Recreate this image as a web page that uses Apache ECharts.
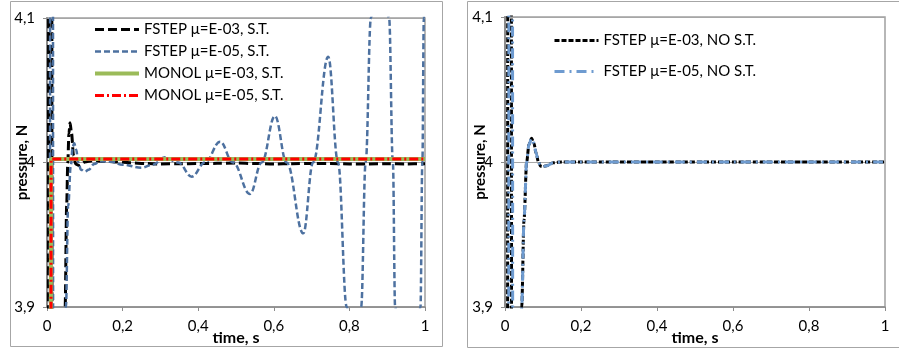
<!DOCTYPE html>
<html><head><meta charset="utf-8">
<script src="https://cdn.jsdelivr.net/npm/echarts@6/dist/echarts.min.js"></script>
<style>html,body{margin:0;padding:0;background:#fff}#c{width:899px;height:351px}</style>
</head><body><div id="c"></div>
<script>
// ---- axis / tick data ----
const xMin = 0, xMax = 1, xStep = 0.2;
const yMin = 3.9, yMax = 4.1, yStep = 0.1;
const xAxisTitle = 'time, s';
const yAxisTitle = 'pressure, N';

// ---- left panel series (with S.T.) ----
const nameF03ST = 'FSTEP μ=E-03, S.T.';
const tF03ST = [0, 0.003, 0.005, 0.012, 0.014, 0.044, 0.048, 0.052, 0.055, 0.058, 0.061, 0.065, 0.07, 0.076, 0.085, 0.1, 0.12, 0.15, 0.18, 0.22, 0.26, 0.3, 0.35, 0.4, 0.45, 0.5, 0.55, 0.6, 0.65, 0.7, 0.75, 0.8, 0.85, 0.9, 0.95, 1.0];
const pF03ST = [3.5, 3.5, 4.5, 4.5, 3.5, 3.5, 3.9, 3.97, 4.0, 4.02, 4.0275, 4.02, 4.005, 3.999, 3.998, 4.0003, 4.0012, 4.0009, 4.0004, 3.9998, 3.9993, 3.999, 3.9991, 3.9993, 3.9994, 3.9996, 3.9993, 3.999, 3.9992, 3.9993, 3.9993, 3.999, 3.999, 3.9991, 3.999, 3.9992];

const nameF05ST = 'FSTEP μ=E-05, S.T.';
const tF05ST = [0, 0.007, 0.009, 0.015, 0.017, 0.046, 0.05, 0.056, 0.063, 0.068, 0.072, 0.077, 0.083, 0.09, 0.1, 0.11, 0.125, 0.14, 0.17, 0.2, 0.25, 0.28, 0.312, 0.347, 0.383, 0.418, 0.458, 0.492, 0.537, 0.568, 0.603, 0.634, 0.678, 0.704, 0.744, 0.77, 0.793, 0.812, 0.831, 0.843, 0.857, 0.88, 0.905, 0.915, 0.921, 0.955, 0.988, 0.993, 0.997, 1.0];
const pF05ST = [3.5, 3.5, 4.5, 4.5, 3.5, 3.5, 3.9, 3.97, 3.998, 4.011, 4.0133, 4.009, 4.0, 3.995, 3.9937, 3.995, 3.999, 4.0008, 4.0005, 3.9985, 3.9964, 3.9985, 4.0036, 4.0, 3.9902, 4.0, 4.0144, 4.0, 3.9782, 4.0, 4.0322, 4.0, 3.951, 4.0, 4.0732, 4.0, 3.9, 3.83, 3.9, 4.0, 4.1, 4.22, 4.1, 4.0, 3.9, 3.55, 3.9, 4.0, 4.1, 4.2];

const nameM03ST = 'MONOL μ=E-03, S.T.';
const tM03ST = [0, 0.0095, 0.0105, 1.0];
const pM03ST = [3.5, 3.5, 4.0025, 4.0025];

const nameM05ST = 'MONOL μ=E-05, S.T.';
const tM05ST = [0, 0.0098, 0.0108, 1.0];
const pM05ST = [3.5, 3.5, 4.0025, 4.0025];

// ---- right panel series (no S.T.) ----
const nameF03NO = 'FSTEP μ=E-03, NO S.T.';
const tF03NO = [0, 0.006, 0.008, 0.016, 0.018, 0.04, 0.044, 0.05, 0.057, 0.063, 0.07, 0.076, 0.082, 0.088, 0.094, 0.099, 0.11, 0.127, 0.15, 0.2, 0.4, 0.6, 0.8, 1.0];
const pF03NO = [3.5, 3.5, 4.5, 4.5, 3.5, 3.5, 3.9, 3.96, 4.0, 4.012, 4.0163, 4.013, 4.006, 4.0, 3.997, 3.9968, 3.9975, 3.9995, 4.0, 4.0, 4.0, 4.0, 4.0, 4.0];

const nameF05NO = 'FSTEP μ=E-05, NO S.T.';
const tF05NO = [0, 0.009, 0.011, 0.019, 0.021, 0.04, 0.044, 0.05, 0.057, 0.063, 0.07, 0.076, 0.082, 0.088, 0.094, 0.099, 0.11, 0.127, 0.15, 0.2, 0.4, 0.6, 0.8, 1.0];
const pF05NO = [3.5, 3.5, 4.5, 4.5, 3.5, 3.5, 3.9, 3.96, 4.0, 4.012, 4.0163, 4.013, 4.006, 4.0, 3.997, 3.9968, 3.9975, 3.9995, 4.0, 4.0, 4.0, 4.0, 4.0, 4.0];

const zip = (t, p) => t.map((v, i) => [v, p[i]]);
const FONT = 'Lato';
const FS = 15;
const comma = v => String(+v.toFixed(2)).replace('.', ',');

function xAx(grid) {
  return {
    type: 'value', gridIndex: grid, min: xMin, max: xMax, interval: xStep,
    name: xAxisTitle, nameLocation: 'middle', nameGap: 23, nameMoveOverlap: false,
    nameTextStyle: { fontFamily: FONT, fontSize: 16, fontWeight: 'bold', color: '#000' },
    axisLine: { show: true, lineStyle: { color: '#8C8C8C', width: 1.5 } },
    axisTick: { show: true, inside: false, length: 4, lineStyle: { color: '#8C8C8C' } },
    axisLabel: { margin: 12, fontFamily: FONT, fontSize: FS, color: '#000', formatter: comma },
    splitLine: { show: false }
  };
}
function yAx(grid) {
  return {
    type: 'value', gridIndex: grid, min: yMin, max: yMax, interval: yStep,
    name: yAxisTitle, nameLocation: 'middle', nameGap: 17, nameRotate: 90, nameMoveOverlap: false,
    nameTextStyle: { fontFamily: FONT, fontSize: FS, fontWeight: 'bold', color: '#000' },
    axisLine: { show: true, lineStyle: { color: '#8C8C8C', width: 2 } },
    axisTick: { show: true, inside: false, length: 4, lineStyle: { color: '#8C8C8C' } },
    axisLabel: { margin: 12, fontFamily: FONT, fontSize: FS, color: '#000', formatter: comma },
    splitLine: { show: true, lineStyle: { color: '#A6A6A6', width: 1 } }
  };
}
function ser(name, t, p, g, color, width, type, smooth) {
  return {
    name, type: 'line', xAxisIndex: g, yAxisIndex: g, data: zip(t, p),
    symbol: 'none', smooth: smooth, smoothMonotone: 'x', clip: true,
    lineStyle: { color, width, type }, itemStyle: { color }
  };
}
const legendCommon = {
  orient: 'vertical', itemWidth: 44, itemHeight: 14, padding: 0,
  itemStyle: { color: 'rgba(0,0,0,0)', borderColor: 'rgba(0,0,0,0)', borderWidth: 0, opacity: 0 },
  lineStyle: { width: 'inherit', type: 'inherit' },
  textStyle: { fontFamily: FONT, fontSize: FS, color: '#000' }
};

const chart = echarts.init(document.getElementById('c'));
chart.setOption({
  animation: false,
  backgroundColor: '#fff',
  graphic: [
    { type: 'rect', shape: { x: 10.5, y: 1.5, width: 432, height: 345 }, style: { fill: 'none', stroke: '#A6A6A6', lineWidth: 1 }, z: -1 },
    { type: 'rect', shape: { x: 467.5, y: 1.5, width: 440, height: 346 }, style: { fill: 'none', stroke: '#A6A6A6', lineWidth: 1 }, z: -1 }
  ],
  grid: [
    { left: 47, top: 18, width: 378, height: 289, show: true, borderColor: '#A0A0A0', borderWidth: 1.5, containLabel: false },
    { left: 505, top: 17, width: 380, height: 290, show: true, borderColor: '#A0A0A0', borderWidth: 1.5, containLabel: false }
  ],
  xAxis: [xAx(0), xAx(1)],
  yAxis: [yAx(0), yAx(1)],
  legend: [
    Object.assign({ data: [nameF03ST, nameF05ST, nameM03ST, nameM05ST], left: 93, top: 22, itemGap: 7 }, legendCommon),
    Object.assign({ data: [nameF03NO, nameF05NO], left: 553, top: 33, itemGap: 16 }, legendCommon)
  ],
  series: [
    ser(nameF03ST, tF03ST, pF03ST, 0, '#000000', 3, [9, 4], 0.3),
    ser(nameF05ST, tF05ST, pF05ST, 0, '#4D71A0', 2.5, [6, 3], 0.4),
    ser(nameM03ST, tM03ST, pM03ST, 0, '#9BBB59', 4, 'solid', false),
    ser(nameM05ST, tM05ST, pM05ST, 0, '#FF0000', 3, [9, 3, 2, 3], false),
    ser(nameF03NO, tF03NO, pF03NO, 1, '#000000', 3, [5, 2], 0.3),
    ser(nameF05NO, tF05NO, pF05NO, 1, '#6E9BD0', 3, [10, 5, 2, 5], 0.3)
  ]
});
</script></body></html>
